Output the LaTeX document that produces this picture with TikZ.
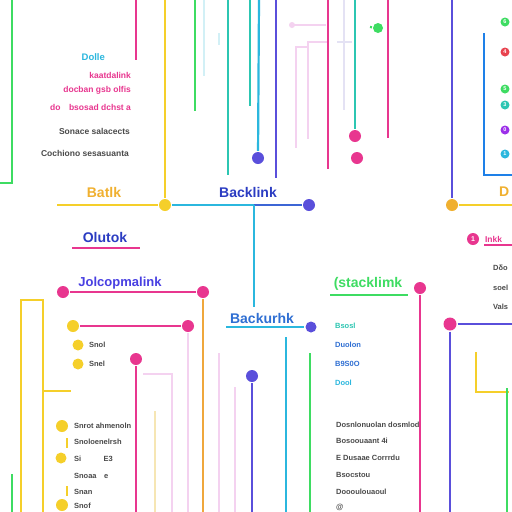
\documentclass[tikz,border=0pt]{standalone}
\usepackage{fontspec}
\setmainfont{Liberation Sans}
\definecolor{yel}{HTML}{F5CF2A}
\definecolor{orn}{HTML}{F0B030}
\definecolor{ornl}{HTML}{EFA73C}
\definecolor{mag}{HTML}{E8368F}
\definecolor{cy}{HTML}{2BB7DE}
\definecolor{teal}{HTML}{2CC6B2}
\definecolor{grn}{HTML}{3EDC62}
\definecolor{purp}{HTML}{5A4FDB}
\definecolor{blu}{HTML}{2B3CC2}
\definecolor{bluc}{HTML}{2F6FD3}
\definecolor{pink}{HTML}{F4D2F0}
\definecolor{lav}{HTML}{E4E2F4}
\definecolor{pcy}{HTML}{D2F0F6}
\definecolor{pyel}{HTML}{F6E6B4}
\definecolor{red}{HTML}{E8434F}
\definecolor{gry}{HTML}{4A4A4A}

\begin{document}
\begin{tikzpicture}[x=1pt,y=-1pt,line width=2.2pt]
            \tikzstyle{every node} = [inner sep=0pt];
            \tikzstyle{dot} = [circle,minimum size=12pt];
            \tikzstyle{sdot} = [circle,minimum size=9pt];
            \tikzstyle{num} = [circle,minimum size=9pt,text=white,font=\fontsize{5.5}{5.5}\selectfont\bfseries];
            \tikzstyle{head} = [font=\fontsize{14}{16}\selectfont\bfseries];
            \tikzstyle{txt} = [font=\fontsize{8.5}{10}\selectfont\bfseries];
            \tikzstyle{tiny} = [font=\fontsize{7.5}{9}\selectfont\bfseries,text=gry,anchor=west];
            \fill[white] (0,0) rectangle (512,512);
            \useasboundingbox (0,0) rectangle (512,512);
            % top left
            \draw[grn] (12,0) -- (12,183) -- (0,183);
            \draw[mag] (136,0) -- (136,60);
            \node[txt,text=cy,anchor=east,font=\fontsize{9.5}{11}\selectfont\bfseries] (a1) at (106,57) {Dolle};
            \node[txt,text=mag,anchor=east] (a2) at (132,75) {kaatdalink};
            \node[txt,text=mag,anchor=east] (a3) at (132,90) {docban gsb olfis};
            \node[txt,text=mag,anchor=east] (a4) at (132,107) {do\quad bsosad dchst a};
            \node[txt,text=gry,anchor=east] (a5) at (131,131) {Sonace salacects};
            \node[txt,text=gry,anchor=east] (a6) at (130,153) {Cochiono sesasuanta};
            % top middle
            \draw[grn] (195,0) -- (195,111);
            \draw[pcy] (204,0) -- (204,76);
            \draw[pcy] (219,33) -- (219,45);
            \draw[teal] (228,0) -- (228,175);
            \draw[teal] (250,0) -- (250,106);
            \draw[purp] (276,0) -- (276,178);
            \draw[pink] (292,25) -- (326,25);
            \draw[pink] (307,42) -- (327,42);
            \draw[pink] (307,47) -- (296,47) -- (296,148);
            \draw[pink] (308,42) -- (308,139);
            \draw[lav] (344,0) -- (344,110);
            \draw[lav] (337,42) -- (352,42);
            \draw[mag] (328,0) -- (328,169);
            \draw[mag] (388,0) -- (388,138);
            \node[sdot,fill=pink,minimum size=6pt] (q1) at (292,25) {};
            \node[dot,fill=purp] (p2) at (258,158) {};
            \coordinate (p2t) at (259,0);
            \draw[cy] (p2t) -- (p2);
            \node[dot,fill=mag] (m3) at (355,136) {};
            \coordinate (m3t) at (355,0);
            \draw[teal] (m3t) -- (m3);
            \node[dot,fill=mag] (m4) at (357,158) {};
            \node[sdot,fill=grn,minimum size=10pt] (g1) at (378,28) {};
            \coordinate (g1l) at (370,27);
            \draw[grn] (g1l) -- (g1);
            % top right
            \node[dot,fill=orn] (o1) at (452,205) {};
            \coordinate (o1t) at (452,0);
            \coordinate (o1r) at (512,205);
            \draw[purp] (o1t) -- (o1);
            \draw[yel] (o1) -- (o1r);
            \draw[cy!70!blue] (484,33) -- (484,175) -- (512,175);
            \node[num,fill=grn] (n1) at (505,22) {6};
            \node[num,fill=red] (n2) at (505,52) {4};
            \node[num,fill=grn] (n3) at (505,89) {5};
            \node[num,fill=teal] (n4) at (505,105) {3};
            \node[num,fill=purp!60!magenta] (n5) at (505,130) {0};
            \node[num,fill=cy] (n6) at (505,154) {1};
            \node[head,text=orn,anchor=west] (t0) at (498,192) {D};
            % middle band
            \node[dot,fill=yel] (y1) at (165,205) {};
            \coordinate (y1t) at (165,0);
            \coordinate (y1l) at (57,205);
            \draw[yel] (y1t) -- (y1);
            \draw[yel] (y1l) -- (y1);
            \node[head,text=orn] (t1) at (104,192) {Batlk};
            \node[head,text=blu] (t2) at (248,192) {Backlink};
            \node[dot,fill=purp] (p1) at (309,205) {};
            \coordinate (j) at (254,205);
            \coordinate (jb) at (254,307);
            \draw[cy] (y1) -- (j);
            \draw[bluc!70!purp] (j) -- (p1);
            \draw[cy] (j) -- (jb);
            \node[head,text=bluc] (t4) at (262,318) {Backurhk};
            \node[sdot,fill=purp,minimum size=11pt] (p3) at (311,327) {};
            \coordinate (t4l) at (226,327);
            \draw[cy] (t4l) -- (p3);
            \node[head,text=blu] (t3) at (105,237) {Olutok};
            \draw[mag] (72,248) -- (140,248);
            % left middle
            \node[head,text=purp!80!blue,font=\fontsize{13}{15}\selectfont\bfseries] (t5) at (120,283) {Jolcopmalink};
            \node[dot,fill=mag] (m1) at (63,292) {};
            \node[dot,fill=mag] (m2) at (203,292) {};
            \coordinate (m2b) at (203,512);
            \draw[mag] (m1) -- (m2);
            \draw[ornl] (m2) -- (m2b);
            \node[dot,fill=yel] (y2) at (73,326) {};
            \node[dot,fill=mag] (m5) at (188,326) {};
            \coordinate (m5b) at (188,512);
            \draw[mag] (y2) -- (m5);
            \draw[pink] (m5) -- (m5b);
            \node[dot,fill=yel,minimum size=11pt] (y3) at (78,345) {};
            \node[dot,fill=yel,minimum size=11pt] (y4) at (78,364) {};
            \node[tiny] (s1) at (88,345) {Snol};
            \node[tiny] (s2) at (88,364) {Snel};
            \draw[yel] (21,512) -- (21,300) -- (43,300) -- (43,512);
            \draw[yel] (43,391) -- (71,391);
            \draw[grn] (12,474) -- (12,512);
            % bottom left
            \node[dot,fill=mag] (m6) at (136,359) {};
            \coordinate (m6b) at (136,512);
            \draw[mag] (m6) -- (m6b);
            \draw[pink] (143,374) -- (172,374) -- (172,512);
            \draw[pyel] (155,411) -- (155,512);
            \draw[pink] (219,353) -- (219,512);
            \draw[pink] (235,387) -- (235,512);
            \node[dot,fill=purp] (p4) at (252,376) {};
            \coordinate (p4b) at (252,512);
            \draw[purp] (p4) -- (p4b);
            \node[dot,fill=yel] (y5) at (62,426) {};
            \node[dot,fill=yel,minimum size=11pt] (y6) at (61,458) {};
            \node[dot,fill=yel] (y7) at (62,505) {};
            \draw[yel,line width=2.5pt] (67,438) -- (67,448);
            \draw[yel,line width=2.5pt] (67,486) -- (67,496);
            \node[tiny] (b1) at (73,426) {Snrot ahmenoln};
            \node[tiny] (b2) at (73,442) {Snoloenelrsh};
            \node[tiny] (b3) at (73,459) {Si\qquad\quad E3};
            \node[tiny] (b4) at (73,476) {Snoaa\quad e};
            \node[tiny] (b5) at (73,492) {Snan};
            \node[tiny] (b6) at (73,506) {Snof};
            % right middle
            \node[dot,fill=mag] (r1) at (473,239) {};
            \node[text=white,font=\fontsize{7}{7}\selectfont\bfseries] at (r1) {1};
            \node[txt,text=mag,anchor=west] (r2) at (484,239) {Inkk};
            \draw[mag,line width=1.4pt] (484,245) -- (512,245);
            \node[tiny] (r3) at (492,268) {Dδo};
            \node[tiny] (r4) at (492,288) {soel};
            \node[tiny] (r5) at (492,307) {Vals};
            \node[head,text=grn] (t6) at (368,284) {(stacklimk};
            \draw[grn] (330,295) -- (408,295);
            \node[dot,fill=mag] (m7) at (420,288) {};
            \coordinate (m7b) at (420,512);
            \draw[mag] (m7) -- (m7b);
            \node[dot,fill=mag,minimum size=13pt] (m8) at (450,324) {};
            \coordinate (m8r) at (512,324);
            \coordinate (m8b) at (450,512);
            \draw[purp] (m8) -- (m8r);
            \draw[purp] (m8) -- (m8b);
            \draw[cy] (286,337) -- (286,512);
            \draw[grn] (310,353) -- (310,512);
            \node[tiny,text=teal] (c1) at (334,326) {Bsosl};
            \node[tiny,text=bluc] (c2) at (334,345) {Duolon};
            \node[tiny,text=bluc] (c3) at (334,364) {B9S0O};
            \node[tiny,text=cy] (c4) at (334,383) {Dool};
            \node[tiny] (d1) at (335,425) {Dosnlonuolan dosmlod};
            \node[tiny] (d2) at (335,441) {Bosoouaant 4i};
            \node[tiny] (d3) at (335,458) {E Dusaae Corrrdu};
            \node[tiny] (d4) at (335,475) {Bsocstou};
            \node[tiny] (d5) at (335,492) {Doooulouaoul};
            \node[tiny] (d6) at (335,507) {@};
            \draw[yel] (476,352) -- (476,392) -- (509,392);
            \draw[grn] (507,388) -- (507,512);
        \end{tikzpicture}
\end{document}
